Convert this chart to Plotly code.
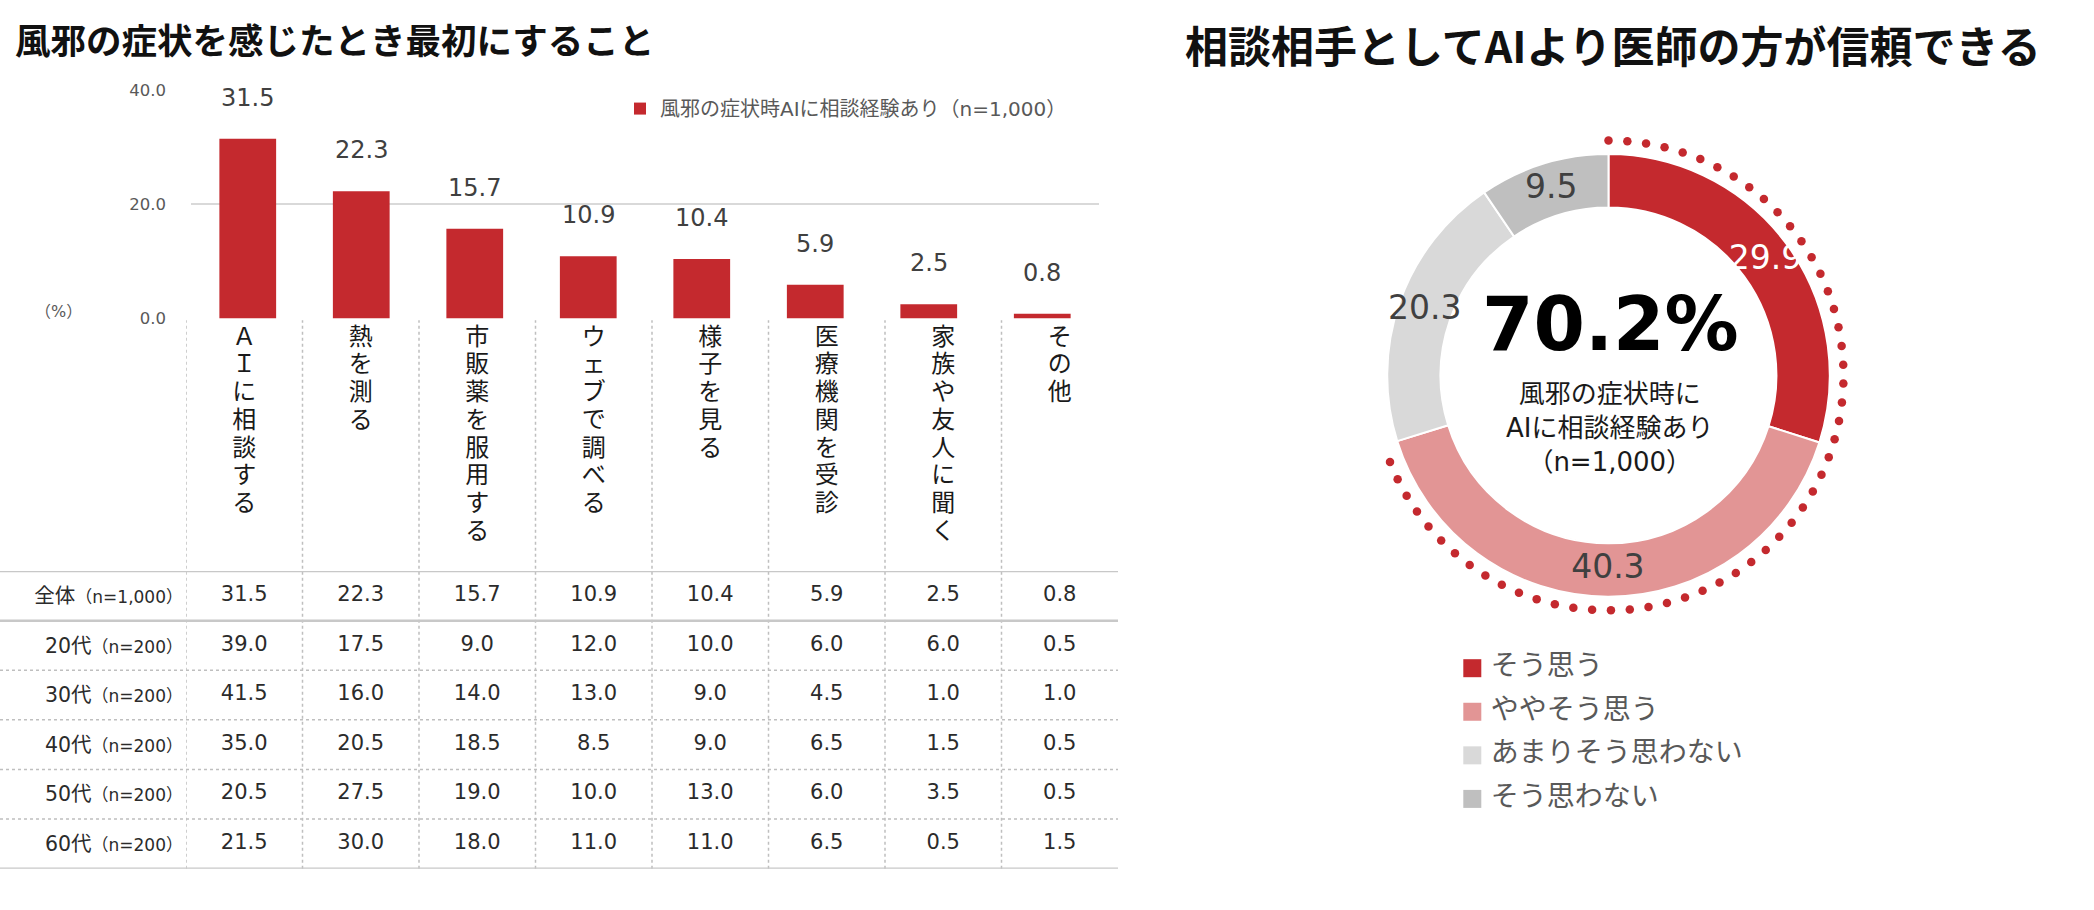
import numpy as np
import plotly.graph_objects as go

W, H = 2094, 910

# ---- データ（左：最初にすること）----
CATEGORIES = ["ＡＩに相談する", "熱を測る", "市販薬を服用する", "ウェブで調べる",
              "様子を見る", "医療機関を受診", "家族や友人に聞く", "その他"]
OVERALL = [31.5, 22.3, 15.7, 10.9, 10.4, 5.9, 2.5, 0.8]
AGE_20S = [39.0, 17.5, 9.0, 12.0, 10.0, 6.0, 6.0, 0.5]
AGE_30S = [41.5, 16.0, 14.0, 13.0, 9.0, 4.5, 1.0, 1.0]
AGE_40S = [35.0, 20.5, 18.5, 8.5, 9.0, 6.5, 1.5, 0.5]
AGE_50S = [20.5, 27.5, 19.0, 10.0, 13.0, 6.0, 3.5, 0.5]
AGE_60S = [21.5, 30.0, 18.0, 11.0, 11.0, 6.5, 0.5, 1.5]
ROW_NAMES = ["全体", "20代", "30代", "40代", "50代", "60代"]
ROW_N = ["n=1,000", "n=200", "n=200", "n=200", "n=200", "n=200"]
TABLE = [OVERALL, AGE_20S, AGE_30S, AGE_40S, AGE_50S, AGE_60S]
Y_TICKS = [0, 20, 40]

# ---- データ（右：医師の方が信頼できる）----
TRUST_LABELS = ["そう思う", "ややそう思う", "あまりそう思わない", "そう思わない"]
TRUST_VALUES = [29.9, 40.3, 20.3, 9.5]

RED = "#C4292E"
PINK = "#E29595"
LGRAY = "#D9D9D9"
GRAY = "#BFBFBF"
TRUST_COLORS = [RED, PINK, LGRAY, GRAY]
TXT = "#404040"
SUB = "#595959"
FONT = "DejaVu Sans, Noto Sans CJK JP, sans-serif"
JP = "Noto Sans CJK JP, sans-serif"


def fx(p):
    return p / W


def fy(p):
    return 1 - p / H


# layout in pixels
BAR_DOM_X = [fx(191), fx(1099)]
BAR_DOM_Y = [fy(316), fy(83)]
TAB_DOM_X = [fx(186), fx(1118)]
TAB_DOM_Y = [fy(878), fy(574)]
LAB_DOM_Y = [fy(574), fy(318)]
PITCH = 28.3
lab_top = -18.7 / PITCH
lab_bot = lab_top + (574 - 318) / PITCH

fig = go.Figure()

# bars
fig.add_trace(go.Bar(
    x=CATEGORIES, y=OVERALL, width=0.5, marker=dict(color=RED, line=dict(width=0)),
    name="風邪の症状時AIに相談経験あり（n=1,000）", xaxis="x", yaxis="y",
    hoverinfo="x+y",
))

# vertical category labels (one character per text point)
cx, cy, ct = [], [], []
for cat in CATEGORIES:
    for j, ch in enumerate(cat):
        cx.append(cat)
        cy.append(j)
        ct.append(ch)
fig.add_trace(go.Scatter(
    x=cx, y=cy, text=ct, mode="text", xaxis="x2", yaxis="y3",
    textfont=dict(family=JP, size=24, color="#1A1A1A"),
    showlegend=False, hoverinfo="skip", cliponaxis=False,
))

# table values
tx, ty, tt = [], [], []
for i, row in enumerate(TABLE):
    for cat, v in zip(CATEGORIES, row):
        tx.append(cat)
        ty.append(i)
        tt.append(f"{v:.1f}")
fig.add_trace(go.Scatter(
    x=tx, y=ty, text=tt, mode="text", xaxis="x2", yaxis="y2",
    textfont=dict(family=FONT, size=21, color="#2B2B2B"),
    showlegend=False, hoverinfo="skip", cliponaxis=False,
))

# ---- donut (polar) ----
CXP, CYP, RP = 1608.5, 374.2, 250
R_OUT, R_IN, R_DOT = 226 / RP, 171.5 / RP, 240 / RP
R_MID = (R_OUT + R_IN) / 2

spans = [v / sum(TRUST_VALUES) * 360 for v in TRUST_VALUES]
starts = np.concatenate([[0], np.cumsum(spans)[:-1]])
mids = starts + np.array(spans) / 2

fig.add_trace(go.Barpolar(
    r=[R_OUT - R_IN] * len(TRUST_VALUES), base=R_IN, theta=mids, width=spans,
    marker=dict(color=TRUST_COLORS, line=dict(color="white", width=2)),
    text=TRUST_LABELS, hoverinfo="text", showlegend=False, subplot="polar",
))

agree_span = (TRUST_VALUES[0] + TRUST_VALUES[1]) / sum(TRUST_VALUES) * 360
dot_theta = np.arange(0, agree_span, 4.6)
fig.add_trace(go.Scatterpolar(
    r=[R_DOT] * len(dot_theta), theta=dot_theta, mode="markers",
    marker=dict(size=8.5, color=RED), showlegend=False, hoverinfo="skip",
    subplot="polar",
))

fig.add_trace(go.Scatterpolar(
    r=[R_MID] * len(TRUST_VALUES), theta=mids, mode="text",
    text=[f"{v:.1f}" for v in TRUST_VALUES],
    textfont=dict(family=FONT, size=33, color=["white", TXT, TXT, TXT]),
    showlegend=False, hoverinfo="skip", subplot="polar",
))

# custom legend for donut
fig.add_trace(go.Scatter(
    x=[0] * len(TRUST_LABELS), y=list(range(len(TRUST_LABELS))),
    text=["\u00a0" + s for s in TRUST_LABELS], mode="markers+text",
    textposition="middle right",
    marker=dict(symbol="square", size=18, color=TRUST_COLORS),
    textfont=dict(family=JP, size=28, color=SUB),
    xaxis="x3", yaxis="y4", showlegend=False, hoverinfo="skip", cliponaxis=False,
))

# ---- shapes (table rules) ----
shapes = []
for i in range(len(CATEGORIES)):
    shapes.append(dict(type="line", xref="x2", yref="paper", x0=i - 0.5, x1=i - 0.5,
                       y0=TAB_DOM_Y[0], y1=LAB_DOM_Y[1],
                       line=dict(color="#BFBFBF", width=1.5, dash="dot")))
for b in range(len(TABLE) + 1):
    solid = b in (0, 1, len(TABLE))
    shapes.append(dict(type="line", xref="paper", yref="y2", x0=0, x1=TAB_DOM_X[1],
                       y0=b - 0.5, y1=b - 0.5,
                       line=dict(color="#C8C8C8" if solid else "#BFBFBF",
                                 width=2.5 if solid else 1.5,
                                 dash="solid" if solid else "dot")))

# ---- annotations ----
ann = []
for cat, v in zip(CATEGORIES, OVERALL):
    ann.append(dict(x=cat, y=v, xref="x", yref="y", yshift=41, text=f"{v:.1f}",
                    xanchor="center", yanchor="middle",
                    showarrow=False, font=dict(family=FONT, size=24, color=TXT)))
ann.append(dict(x=fx(13), y=fy(30), xref="paper", yref="paper", xanchor="left",
                yanchor="middle", showarrow=False,
                text="<b>風邪の症状を感じたとき最初にすること</b>",
                font=dict(family=JP, size=35.5, color="#111111")))
ann.append(dict(x=fx(58), y=fy(309), xref="paper", yref="paper", showarrow=False,
                xanchor="center", yanchor="middle",
                text="（%）", font=dict(family=FONT, size=16, color=SUB)))
ann.append(dict(x=fx(1612.5), y=fy(36), xref="paper", yref="paper", showarrow=False,
                xanchor="center", yanchor="middle",
                text="<b>相談相手としてAIより医師の方が信頼できる</b>",
                font=dict(family=JP, size=43, color="#111111")))
ann.append(dict(x=fx(1610.7), y=fy(321.7), xref="paper", yref="paper", showarrow=False,
                xanchor="center", yanchor="middle",
                text=f"<b>{TRUST_VALUES[0] + TRUST_VALUES[1]:.1f}%</b>",
                font=dict(family=FONT, size=74, color="black")))
ann.append(dict(x=fx(1609), y=fy(428), xref="paper", yref="paper", showarrow=False,
                xanchor="center", yanchor="middle",
                text="風邪の症状時に<br>AIに相談経験あり<br>（n=1,000）",
                font=dict(family=FONT, size=26, color="#1A1A1A")))

row_text = [f"{n}<span style='font-size:17px'>（{m}）</span>" for n, m in zip(ROW_NAMES, ROW_N)]

fig.update_layout(
    width=W, height=H, margin=dict(l=0, r=0, t=0, b=0),
    paper_bgcolor="white", plot_bgcolor="rgba(0,0,0,0)",
    font=dict(family=FONT, color=TXT),
    showlegend=True,
    legend=dict(x=fx(620), y=fy(101.7), xanchor="left", yanchor="middle",
                font=dict(family=FONT, size=20, color=SUB), bgcolor="rgba(0,0,0,0)",
                itemwidth=30),
    xaxis=dict(domain=BAR_DOM_X, anchor="y", range=[-0.5, len(CATEGORIES) - 0.5],
               showticklabels=False, showgrid=False, zeroline=False, ticks=""),
    yaxis=dict(domain=BAR_DOM_Y, anchor="x", range=[0, 40], tickvals=Y_TICKS,
               tickformat=".1f", showgrid=True, gridcolor="#D9D9D9", gridwidth=2,
               zeroline=False, ticks="", ticklabelstandoff=24,
               tickfont=dict(family=FONT, size=16.5, color=SUB)),
    xaxis2=dict(domain=TAB_DOM_X, anchor="y2", range=[-0.5, len(CATEGORIES) - 0.5],
                showticklabels=False, showgrid=False, zeroline=False, ticks=""),
    yaxis2=dict(domain=TAB_DOM_Y, anchor="x2", range=[len(TABLE) - 0.5, -0.5],
                tickvals=list(range(len(TABLE))), ticktext=row_text,
                showgrid=False, zeroline=False, ticks="", ticklabelstandoff=2,
                tickfont=dict(family=FONT, size=20.5, color="#2B2B2B")),
    yaxis3=dict(domain=LAB_DOM_Y, anchor="x2", range=[lab_bot, lab_top], visible=False),
    xaxis3=dict(domain=[fx(1462.3), fx(1482.3)], anchor="y4", range=[-1, 1], visible=False),
    yaxis4=dict(domain=[fy(829), fy(651)], anchor="x3", range=[3.5, -0.5], visible=False),
    polar=dict(domain=dict(x=[fx(CXP - RP), fx(CXP + RP)], y=[fy(CYP + RP), fy(CYP - RP)]),
               bgcolor="rgba(0,0,0,0)", bargap=0, hole=0,
               radialaxis=dict(range=[0, 1], visible=False),
               angularaxis=dict(visible=False, rotation=90, direction="clockwise")),
    shapes=shapes, annotations=ann,
)

fig.write_html("out.html", config={"displayModeBar": False},
               post_script="document.body.style.margin='0';")
